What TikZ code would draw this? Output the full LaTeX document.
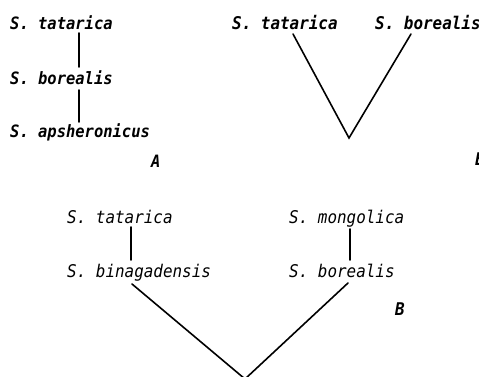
\documentclass[tikz,border=0pt]{standalone}
\usepackage{fontspec}
\newfontfamily\gost[FakeStretch=0.91]{DejaVu Sans Mono}
\begin{document}
\begin{tikzpicture}[x=1pt,y=-1pt,
  txt/.style={anchor=base west,inner sep=0pt,font=\gost\bfseries\itshape\fontsize{17.5}{18}\selectfont},
  txtA/.style={txt,font=\gost\bfseries\itshape\fontsize{17}{18}\selectfont},
  txtC/.style={txt,font=\gost\itshape\fontsize{17.5}{18}\selectfont},
  ln/.style={line width=1.6pt,line cap=round}]
\useasboundingbox (0,0) rectangle (479,377);
% Panel A
\node[txtA] (A1) at (10,30) {S. tatarica};
\node[txtA] (A2) at (10,85) {S. borealis};
\node[txtA] (A3) at (10,138) {S. apsheronicus};
\node[txtA] (LA) at (151,167) {A};
\path (A1.base west) ++(69,3) coordinate (a1b);
\path (A2.base west) ++(69,-18) coordinate (a2t);
\path (A2.base west) ++(69,5) coordinate (a2b);
\path (A3.base west) ++(69,-16) coordinate (a3t);
\draw[ln] (a1b) -- (a2t);
\draw[ln] (a2b) -- (a3t);
% Panel B
\node[txt] (B1) at (232,30) {S. tatarica};
\node[txt] (B2) at (375,30) {S. borealis};
\node[txt] (LB) at (475,165) {Б};
\path (B1.base west) ++(61,4) coordinate (b1b);
\path (B2.base west) ++(36,4) coordinate (b2b);
\coordinate (bapex) at (349,138);
\draw[ln,line join=miter] (b1b) -- (bapex) -- (b2b);
% Panel V
\node[txtC] (C1) at (67,223) {S. tatarica};
\node[txtC] (C2) at (67,277) {S. binagadensis};
\node[txtC] (C3) at (289,223) {S. mongolica};
\node[txtC] (C4) at (289,277) {S. borealis};
\node[txt] (LC) at (395,315) {В};
\path (C1.base west) ++(64,4) coordinate (c1b);
\path (C2.base west) ++(64,-17) coordinate (c2t);
\path (C3.base west) ++(61,6) coordinate (c3b);
\path (C4.base west) ++(61,-17) coordinate (c4t);
\path (C2.base west) ++(65,7) coordinate (c2b);
\path (C4.base west) ++(59,6) coordinate (c4b);
\coordinate (capex) at (245,379);
\draw[ln] (c1b) -- (c2t);
\draw[ln] (c3b) -- (c4t);
\draw[ln,line join=miter] (c2b) -- (capex) -- (c4b);
\end{tikzpicture}
\end{document}
